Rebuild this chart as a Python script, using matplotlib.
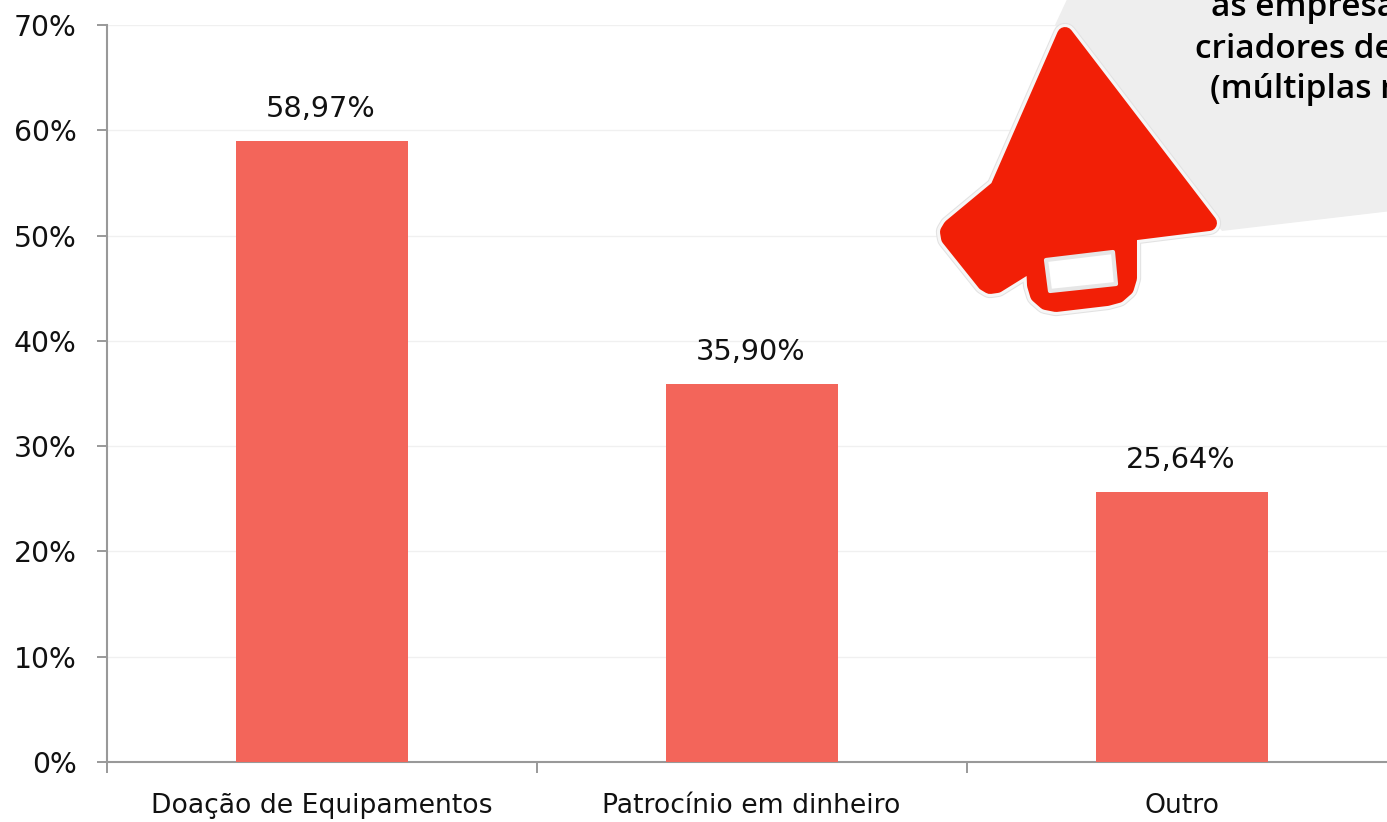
import matplotlib
matplotlib.use("Agg")
import matplotlib.pyplot as plt
from matplotlib.patches import Polygon
from matplotlib.transforms import Affine2D

categories = ["Doação de Equipamentos", "Patrocínio em dinheiro", "Outro"]
values = [58.97, 35.90, 25.64]
value_labels = ["58,97%", "35,90%", "25,64%"]
y_ticks = [0, 10, 20, 30, 40, 50, 60, 70]
y_tick_labels = ["0%", "10%", "20%", "30%", "40%", "50%", "60%", "70%"]
callout_lines = ["as empresas", "criadores de", "(múltiplas r"]

W, H = 1387, 822
FONT = "DejaVu Sans"
TC = "#111111"
fig = plt.figure(figsize=(W / 100, H / 100), dpi=100, facecolor="white")
L, R, T, B = 106.5, 1387, 25, 762
ax = fig.add_axes([L / W, 1 - B / H, (R - L) / W, (B - T) / H])
ax.set_xlim(-0.5, -0.5 + (R - L) / 430)
ax.set_ylim(0, 70)
ax.bar(range(3), values, width=0.4, color="#f3655a", zorder=3)
for i, (v, t) in enumerate(zip(values, value_labels)):
    ax.annotate(t, (i, v), xytext=(-1, 32), textcoords="offset pixels", ha="center",
                va="center", fontsize=20.7, family=FONT, color=TC, zorder=4)
ax.set_yticks(y_ticks, y_tick_labels, fontsize=20.3, family=FONT, color=TC)
ax.set_xticks([-0.5, 0.5, 1.5])
ax.set_xticklabels([])
for i, c in enumerate(categories):
    ax.annotate(c, (i, 0), xytext=(0, -44), textcoords="offset pixels", ha="center", va="center",
                fontsize=19.2, family=FONT, color=TC, annotation_clip=False)
ax.grid(axis="y", color="#f0f0f0", lw=1, zorder=0)
ax.set_axisbelow(True)
ax.tick_params(axis="y", length=7.5, width=1.4, color="#999999", pad=14)
ax.tick_params(axis="x", length=8, width=1.4, color="#999999")
for s in ["top", "right"]:
    ax.spines[s].set_visible(False)
for s in ["left", "bottom"]:
    ax.spines[s].set_color("#999999")
    ax.spines[s].set_linewidth(1.5)

# Callout decoration, positioned in figure pixels
px = Affine2D().scale(1, -1).translate(0, H)
def poly(points, **kw):
    p = Polygon(points, closed=True, transform=px, clip_on=False, joinstyle="round", **kw)
    fig.add_artist(p)

poly([(1069, -5), (1392, -5), (1392, 211), (1222, 231), (1055, 25)], fc="#eeeeee", ec="none", zorder=5)
shape = [(1065, 35), (1209, 223), (1129, 233), (1129, 278), (1126, 288), (1118, 295), (1107, 298),
         (1056, 304), (1046, 302), (1038, 295), (1035, 285), (1034, 262),
         (997, 285), (990, 286), (985, 283), (949, 238), (948, 232), (951, 227), (998, 188)]
poly(shape, fc="#e2e2e2", ec="#e2e2e2", lw=17.5, zorder=6)
poly(shape, fc="#f6f6f6", ec="#f6f6f6", lw=16, zorder=7)
poly(shape, fc="#f21f06", ec="#f21f06", lw=11.5, zorder=8)
poly([(1046, 260), (1113, 252), (1116, 284), (1050, 291)], fc="white", ec="#e6e6e6", lw=3, zorder=9)

for line, x, y in zip(callout_lines, [1211, 1195, 1210], [8, 49, 90]):
    fig.text(x / W, 1 - y / H, line, ha="left", va="center", fontsize=24, family="Open Sans",
             fontweight="semibold", color="black", zorder=10)

fig.savefig("out.png", dpi=100)
